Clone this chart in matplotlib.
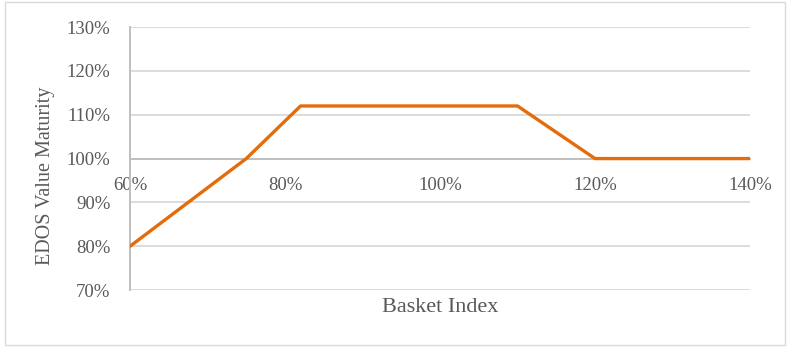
import matplotlib.pyplot as plt
from matplotlib.patches import Rectangle
from matplotlib.ticker import FuncFormatter

# 数据
basket_index = [60, 75, 82, 110, 120, 140]
edos_value = [80, 100, 112, 112, 100, 100]
x_ticks = [60, 80, 100, 120, 140]
y_ticks = [70, 80, 90, 100, 110, 120, 130]

plt.rcParams['font.family'] = ['Liberation Serif', 'DejaVu Serif']
text_color = '#595959'

fig = plt.figure(figsize=(7.9, 3.47), dpi=100)
ax = fig.add_axes([0.1646, 0.164, 0.7848, 0.758])

# 外框
fig.patches.append(Rectangle((0.006, 0.006), 0.988, 0.988, transform=fig.transFigure,
                             fill=False, edgecolor='#d9d9d9', linewidth=1))

ax.plot(basket_index, edos_value, color='#e46c0a', linewidth=2.4, zorder=3)

ax.set_xlim(60, 140)
ax.set_ylim(70, 130)
ax.set_xticks(x_ticks)
ax.set_yticks(y_ticks)
ax.xaxis.set_major_formatter(FuncFormatter(lambda v, p: '%d%%' % v))
ax.yaxis.set_major_formatter(FuncFormatter(lambda v, p: '%d%%' % v))
ax.tick_params(length=0, labelsize=13.5, colors=text_color)
ax.tick_params(axis='x', pad=13)
ax.tick_params(axis='y', pad=14)

ax.grid(axis='y', color='#d9d9d9', linewidth=1.3)
ax.set_axisbelow(True)

# x轴在100%处
ax.spines['bottom'].set_position(('data', 100))
ax.spines['bottom'].set_color('#bfbfbf')
ax.spines['bottom'].set_linewidth(1.4)
ax.spines['left'].set_color('#bfbfbf')
ax.spines['left'].set_linewidth(1.4)
ax.spines['top'].set_visible(False)
ax.spines['right'].set_visible(False)

fig.text(0.557, 0.115, 'Basket Index', ha='center', va='center', fontsize=16, color=text_color)
fig.text(0.058, 0.493, 'EDOS Value Maturity', ha='center', va='center', rotation=90,
         fontsize=14.5, color=text_color)

plt.savefig('out.png', dpi=100)
